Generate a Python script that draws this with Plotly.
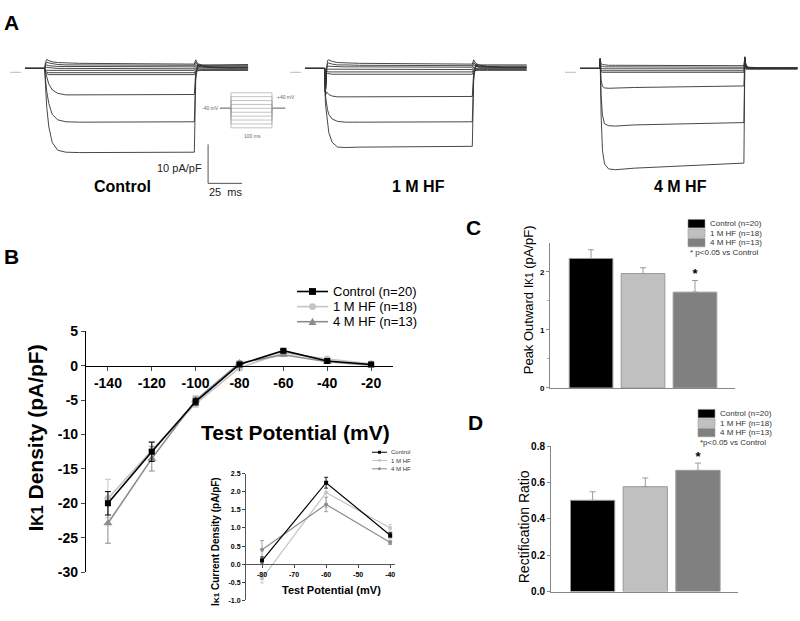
import plotly.graph_objects as go

W, H = 800, 621
FONT = "Liberation Sans, Arial, sans-serif"

# ---------------- Panel A: representative IK1 current traces (ms, pA/pF) ----------------
ctrl_t = [0, 14.5, 15.0, 16.0, 17.5, 20.0, 24.0, 30.0, 40.0, 124.5, 125.5, 127.0, 130.0, 136.0, 148.0, 164.0]
ctrl_traces = [
    [0, 0, -4.0, -10.0, -15.0, -19.0, -21.0, -21.5, -21.6, -21.5, -3.0, 1.0, 0.8, 0.4, 0.3, 0.3],
    [0, 0, -2.5, -6.0, -9.0, -11.8, -13.2, -13.7, -13.8, -13.7, -2.0, 0.8, 0.6, 0.3, 0.2, 0.2],
    [0, 0, -1.0, -2.5, -4.0, -5.5, -6.4, -6.8, -6.8, -6.7, -1.0, 0.6, 0.4, 0.2, 0.1, 0.1],
    [0, 0, 1.5, 2.3, 2.0, 1.7, 1.5, 1.4, 1.3, 1.1, 2.2, 1.2, 0.9, 0.9, 1.0, 1.0],
    [0, 0, 1.0, 1.6, 1.4, 1.2, 1.0, 0.9, 0.9, 0.8, 1.6, 0.9, 0.7, 0.7, 0.7, 0.7],
    [0, 0, 0.6, 0.9, 0.7, 0.6, 0.5, 0.5, 0.5, 0.4, 1.0, 0.5, 0.4, 0.4, 0.4, 0.4],
    [0, 0, 0.2, 0.3, 0.2, 0.1, 0.0, 0.0, 0.0, -0.1, 0.5, 0.2, 0.1, 0.1, 0.1, 0.1],
    [0, 0, -0.3, -0.5, -0.5, -0.5, -0.5, -0.5, -0.5, -0.5, 0.0, -0.1, -0.2, -0.2, -0.2, -0.2],
    [0, 0, -0.6, -1.0, -1.1, -1.1, -1.1, -1.1, -1.1, -1.1, -0.5, -0.4, -0.4, -0.4, -0.4, -0.4],
    [0, 0, -0.9, -1.4, -1.6, -1.6, -1.6, -1.6, -1.6, -1.6, -0.8, -0.6, -0.5, -0.5, -0.5, -0.5],
]

hf1_t = [0, 14.5, 15.0, 15.8, 16.5, 17.5, 20.0, 24.0, 30.0, 40.0, 123.0, 124.0, 125.5, 128.0, 134.0, 146.0, 163.0]
hf1_traces = [
    [0, 0, -9.0, -12.0, -14.5, -16.5, -19.0, -20.2, -20.3, -20.2, -20.0, -3.0, 1.0, 0.8, 0.5, 0.3, 0.3],
    [0, 0, -7.0, -9.0, -10.5, -11.8, -13.0, -13.6, -13.8, -13.8, -13.7, -2.0, 0.8, 0.6, 0.4, 0.3, 0.3],
    [0, 0, -7.0, -6.0, -6.3, -6.7, -7.1, -7.3, -7.3, -7.3, -7.2, -1.0, 0.6, 0.4, 0.3, 0.2, 0.2],
    [0, 0, -6.0, 0.5, 2.0, 2.2, 1.8, 1.5, 1.4, 1.3, 1.1, 2.2, 1.3, 0.9, 0.9, 0.9, 0.9],
    [0, 0, -6.0, 0.2, 1.2, 1.4, 1.1, 0.9, 0.9, 0.8, 0.7, 1.5, 0.9, 0.6, 0.6, 0.6, 0.6],
    [0, 0, -6.0, 0.0, 0.5, 0.6, 0.5, 0.4, 0.4, 0.4, 0.3, 1.0, 0.5, 0.3, 0.3, 0.3, 0.3],
    [0, 0, -6.0, -0.5, -0.2, -0.2, -0.3, -0.3, -0.3, -0.3, -0.3, 0.4, 0.0, 0.0, 0.0, 0.0, 0.0],
    [0, 0, -6.0, -1.0, -0.8, -0.9, -0.9, -0.9, -0.9, -0.9, -0.9, -0.2, -0.3, -0.3, -0.3, -0.3, -0.3],
    [0, 0, -6.0, -1.4, -1.3, -1.4, -1.5, -1.5, -1.5, -1.5, -1.5, -0.6, -0.5, -0.5, -0.5, -0.5, -0.5],
]

hf4_t = [0, 14.3, 14.8, 15.5, 16.5, 18.0, 21.0, 26.0, 40.0, 80.0, 120.5, 121.2, 122.0, 124.0, 130.0, 145.0, 160.0]
hf4_traces = [
    [0, 0, 2.5, -12.0, -21.0, -24.5, -25.8, -26.0, -25.6, -25.0, -24.3, 2.8, 0.8, 0.3, 0.2, 0.2, 0.2],
    [0, 0, 2.5, -7.0, -12.0, -14.2, -14.7, -14.8, -14.5, -14.2, -13.9, 2.8, 0.6, 0.2, 0.1, 0.1, 0.1],
    [0, 0, 2.5, -3.0, -4.6, -5.0, -5.1, -5.0, -4.9, -4.7, -4.5, 2.8, 0.4, 0.1, 0.1, 0.1, 0.1],
    [0, 0, 2.5, 1.2, 1.0, 0.9, 0.8, 0.8, 0.8, 0.7, 0.7, 3.0, 0.6, 0.2, 0.1, 0.1, 0.1],
    [0, 0, 2.0, 0.6, 0.5, 0.4, 0.4, 0.4, 0.4, 0.3, 0.3, 2.5, 0.4, 0.1, 0.0, 0.0, 0.0],
    [0, 0, 1.5, 0.0, -0.1, -0.1, -0.1, -0.1, -0.1, -0.1, -0.1, 2.0, 0.2, 0.0, 0.0, 0.0, 0.0],
    [0, 0, 1.0, -0.5, -0.6, -0.6, -0.6, -0.6, -0.6, -0.6, -0.6, 1.5, 0.0, -0.1, -0.1, -0.1, -0.1],
    [0, 0, 0.5, -0.9, -1.0, -1.0, -1.0, -1.0, -1.0, -1.0, -1.0, 1.0, -0.2, -0.2, -0.2, -0.2, -0.2],
]

zero_t = [-11, -3]          # little zero-current marker left of each trace set
zero_i = [-1, -1]
scale_ms = 25
scale_pa = 10

# voltage protocol: 100 ms steps from -40 mV holding
prot_hold = -40
prot_levels = [-140, -120, -100, -80, -60, -40, -20, 0, 20, 40]
prot_t = [-27, 0, 0, 100, 100, 132]

# ---------------- Panel B: I-V relation ----------------
iv_mv = [-140, -120, -100, -80, -60, -40, -20]
iv_ctrl = [-20.0, -12.5, -5.2, 0.2, 2.2, 0.7, 0.2]
iv_ctrl_err = [1.7, 1.4, 0.5, 0.3, 0.2, 0.15, 0.1]
iv_hf1 = [-19.3, -12.3, -5.5, -0.3, 1.9, 1.0, 0.3]
iv_hf1_err = [2.8, 1.3, 0.5, 0.3, 0.25, 0.2, 0.1]
iv_hf4 = [-22.9, -13.5, -5.0, 0.4, 1.6, 0.6, 0.1]
iv_hf4_err = [2.9, 1.8, 0.6, 0.3, 0.2, 0.15, 0.1]

# inset: outward component
ins_mv = [-80, -60, -40]
ins_ctrl = [0.1, 2.25, 0.8]
ins_ctrl_err = [0.1, 0.15, 0.07]
ins_hf1 = [-0.4, 1.98, 1.0]
ins_hf1_err = [0.12, 0.42, 0.1]
ins_hf4 = [0.4, 1.65, 0.6]
ins_hf4_err = [0.25, 0.2, 0.06]

# ---------------- Panels C and D: bar summaries ----------------
groups = ["Control", "1 M HF", "4 M HF"]
group_labels = ["Control (n=20)", "1 M HF (n=18)", "4 M HF (n=13)"]
peak_out = [2.23, 1.97, 1.65]
peak_out_err = [0.15, 0.1, 0.2]
rect_ratio = [0.503, 0.578, 0.668]
rect_ratio_err = [0.047, 0.048, 0.04]
sig_group = ["4 M HF"]
peak_sig_y = [1.95]
rect_sig_y = [0.74]

bar_colors = ["#000000", "#c0c0c0", "#808080"]
line_colors = ["#000000", "#c4c4c4", "#8c8c8c"]


def px(x):
    return x / W


def py(y):
    return 1 - y / H


fig = go.Figure()

# ---- A traces
trace_style = dict(color="#333333", width=0.9)
for ax, t, traces in (("2", ctrl_t, ctrl_traces), ("3", hf1_t, hf1_traces), ("4", hf4_t, hf4_traces)):
    for tr in traces:
        fig.add_trace(go.Scatter(x=t, y=tr, mode="lines", line=trace_style, showlegend=False,
                                 hoverinfo="skip", xaxis="x" + ax, yaxis="y" + ax))
    fig.add_trace(go.Scatter(x=zero_t, y=zero_i, mode="lines", line=dict(color="#aaaaaa", width=0.8),
                             showlegend=False, hoverinfo="skip", xaxis="x" + ax, yaxis="y" + ax))

# scale bar in the control panel
sb_t0, sb_i0 = 134.6, -19.5
fig.add_trace(go.Scatter(x=[sb_t0, sb_t0, sb_t0 + scale_ms], y=[sb_i0, sb_i0 - scale_pa, sb_i0 - scale_pa],
                         mode="lines", line=dict(color="#555555", width=1), showlegend=False,
                         hoverinfo="skip", xaxis="x2", yaxis="y2"))

# protocol schematic
for v in prot_levels:
    fig.add_trace(go.Scatter(x=prot_t, y=[prot_hold, prot_hold, v, v, prot_hold, prot_hold], mode="lines",
                             line=dict(color="#9a9a9a", width=0.6), showlegend=False, hoverinfo="skip",
                             xaxis="x5", yaxis="y5"))

# ---- B main I-V
for y, err, col, sym, size in ((iv_hf1, iv_hf1_err, line_colors[1], "circle", 7),
                               (iv_hf4, iv_hf4_err, line_colors[2], "triangle-up", 8),
                               (iv_ctrl, iv_ctrl_err, line_colors[0], "square", 6)):
    fig.add_trace(go.Scatter(x=iv_mv, y=y, mode="lines+markers", showlegend=False,
                             line=dict(color=col, width=1.6), marker=dict(symbol=sym, size=size, color=col),
                             error_y=dict(type="data", array=err, color=col, thickness=1, width=3)))

# ---- B inset
for y, err, col, sym in ((ins_hf1, ins_hf1_err, line_colors[1], "circle"),
                         (ins_hf4, ins_hf4_err, line_colors[2], "circle"),
                         (ins_ctrl, ins_ctrl_err, line_colors[0], "square")):
    fig.add_trace(go.Scatter(x=ins_mv, y=y, mode="lines+markers", showlegend=False,
                             line=dict(color=col, width=1.2), marker=dict(symbol=sym, size=4, color=col),
                             error_y=dict(type="data", array=err, color=col, thickness=0.8, width=2),
                             xaxis="x6", yaxis="y6"))

# ---- C and D bars
for ax, vals, errs, sig_y in (("7", peak_out, peak_out_err, peak_sig_y), ("8", rect_ratio, rect_ratio_err, rect_sig_y)):
    fig.add_trace(go.Bar(x=groups, y=vals, width=0.84, showlegend=False,
                         marker=dict(color=bar_colors, line=dict(color="#9a9a9a", width=1)),
                         error_y=dict(type="data", array=errs, arrayminus=[0] * len(errs), symmetric=False,
                                      color="#9a9a9a", thickness=1, width=3),
                         xaxis="x" + ax, yaxis="y" + ax))
    fig.add_trace(go.Scatter(x=sig_group, y=sig_y, mode="text", text=["*"], showlegend=False,
                             textfont=dict(size=13, color="black", family=FONT, weight="bold"),
                             xaxis="x" + ax, yaxis="y" + ax))

hidden = dict(visible=False, fixedrange=True)
b_dom_y = [py(579), py(332)]
b_range_y = [-30, 5]
b_zero = b_dom_y[0] + (0 - b_range_y[0]) / (b_range_y[1] - b_range_y[0]) * (b_dom_y[1] - b_dom_y[0])
i_dom_y = [py(608), py(478)]
i_range_y = [-1.0, 2.5]
i_zero = i_dom_y[0] + (0 - i_range_y[0]) / (i_range_y[1] - i_range_y[0]) * (i_dom_y[1] - i_dom_y[0])

bold = lambda s: dict(size=s, color="black", family=FONT, weight="bold")
a_dom_y = [py(190), py(40)]
a_range_y = [-32, 5.5]

layout_axes = dict(
    xaxis2=dict(hidden, domain=[px(8.7), px(8.7 + 180 * 1.36)], range=[-12, 168], anchor="y2"),
    yaxis2=dict(hidden, domain=a_dom_y, range=a_range_y, anchor="x2"),
    xaxis3=dict(hidden, domain=[px(288.7), px(288.7 + 180 * 1.36)], range=[-12, 168], anchor="y3"),
    yaxis3=dict(hidden, domain=a_dom_y, range=a_range_y, anchor="x3"),
    xaxis4=dict(hidden, domain=[px(563.7), px(563.7 + 172 * 1.36)], range=[-12, 160], anchor="y4"),
    yaxis4=dict(hidden, domain=a_dom_y, range=a_range_y, anchor="x4"),
    xaxis5=dict(hidden, domain=[px(215), px(290)], range=[-39, 143.9], anchor="y5"),
    yaxis5=dict(hidden, domain=[py(130), py(80)], range=[-175, 75], anchor="x5"),
    xaxis=dict(domain=[px(86), px(393)], range=[-150, -10], anchor="free", position=b_zero,
               showline=True, linecolor="black", linewidth=1.2, ticks="outside", ticklen=4,
               tickvals=iv_mv, ticktext=[str(v) for v in iv_mv],
               tickfont=bold(14), showgrid=False, zeroline=False, fixedrange=True),
    yaxis=dict(domain=b_dom_y, range=b_range_y, anchor="x", showline=True, linecolor="black", linewidth=1.2,
               ticks="outside", ticklen=4, tickvals=list(range(-30, 6, 5)),
               ticktext=[str(v) for v in range(-30, 6, 5)], tickfont=bold(14),
               showgrid=False, zeroline=False, fixedrange=True),
    xaxis6=dict(domain=[px(246), px(395)], range=[-85, -38.5], anchor="free", position=i_zero,
                showline=True, linecolor="#555555", linewidth=1, ticks="outside", ticklen=3,
                tickvals=[-80, -70, -60, -50, -40], ticktext=["-80", "-70", "-60", "-50", "-40"],
                tickfont=bold(7), showgrid=False, zeroline=False, fixedrange=True),
    yaxis6=dict(domain=i_dom_y, range=i_range_y, anchor="x6", showline=True, linecolor="#555555", linewidth=1,
                ticks="outside", ticklen=3, tickvals=[-1.0, -0.5, 0, 0.5, 1.0, 1.5, 2.0, 2.5],
                ticktext=["-1.0", "-0.5", "0.0", "0.5", "1.0", "1.5", "2.0", "2.5"],
                tickfont=bold(7), showgrid=False, zeroline=False, fixedrange=True),
    xaxis7=dict(domain=[px(550), px(735)], type="category", range=[-0.79, 2.77], anchor="y7",
                showline=True, linecolor="#888888", linewidth=1, showticklabels=False, ticks="",
                showgrid=False, fixedrange=True),
    yaxis7=dict(domain=[py(390), py(241)], range=[0, 2.5], anchor="x7", showline=True, linecolor="#888888",
                linewidth=1, ticks="outside", ticklen=3, tickcolor="#888888", tickvals=[0, 1, 2],
                tickfont=bold(8), minor=dict(tickvals=[0.5, 1.5], ticks="outside", ticklen=2, tickcolor="#aaaaaa"),
                showgrid=False, zeroline=False, fixedrange=True),
    xaxis8=dict(domain=[px(551), px(738)], type="category", range=[-0.79, 2.76], anchor="y8",
                showline=True, linecolor="#888888", linewidth=1, showticklabels=False, ticks="",
                showgrid=False, fixedrange=True),
    yaxis8=dict(domain=[py(599), py(450)], range=[0, 0.8], anchor="x8", showline=True, linecolor="#888888",
                linewidth=1, ticks="outside", ticklen=3, tickcolor="#888888",
                tickvals=[0, 0.2, 0.4, 0.6, 0.8], ticktext=["0.0", "0.2", "0.4", "0.6", "0.8"],
                tickfont=bold(10), showgrid=False, zeroline=False, fixedrange=True),
)

ann = []
shapes = []


def text(x, y, s, size, weight="normal", xanchor="center", angle=0, color="black"):
    ann.append(dict(x=px(x), y=py(y), xref="paper", yref="paper", text=s, showarrow=False,
                    xanchor=xanchor, yanchor="middle", textangle=angle,
                    font=dict(size=size, family=FONT, color=color, weight=weight)))


# panel letters
text(11, 15, "A", 21, "bold")
text(11, 255, "B", 21, "bold")
text(473, 225, "C", 21, "bold")
text(475, 425, "D", 21, "bold")

# A labels
text(122, 183, "Control", 16, "bold")
text(418, 183, "1 M HF", 16, "bold")
text(680, 183, "4 M HF", 16, "bold")
text(204, 164, "10 pA/pF", 11, xanchor="right", color="#222222")
text(226, 189, "25&nbsp;&nbsp;ms", 11, color="#222222")
text(210, 103, "-40 mV", 5, color="#666666")
text(286, 91, "+40 mV", 5, color="#666666")
text(253, 131, "100 ms", 5, color="#666666")

# B titles
text(36, 442, "I<span style='font-size:16px'>K1</span> Density (pA/pF)", 21, "bold", angle=-90)
text(295, 436, "Test Potential (mV)", 21, "bold")
text(216, 548, "I<span style='font-size:8px'>K1</span> Current Density (pA/pF)", 10, "bold", angle=-90)
text(331, 597, "Test Potential (mV)", 11, "bold")

# C / D titles
text(528, 300, "Peak Outward I<span style='font-size:10px'>K1</span> (pA/pF)", 13, angle=-90)
text(524, 533, "Rectification Ratio", 14, angle=-90)


def marker_shape(kind, cx, cy, r, color):
    if kind == "square":
        shapes.append(dict(type="rect", xref="paper", yref="paper", x0=px(cx - r), x1=px(cx + r),
                           y0=py(cy + r), y1=py(cy - r), fillcolor=color, line=dict(width=0)))
    elif kind == "circle":
        shapes.append(dict(type="circle", xref="paper", yref="paper", x0=px(cx - r), x1=px(cx + r),
                           y0=py(cy + r), y1=py(cy - r), fillcolor=color, line=dict(width=0)))
    else:
        path = "M %f,%f L %f,%f L %f,%f Z" % (px(cx - r - 0.5), py(cy + r), px(cx + r + 0.5), py(cy + r),
                                             px(cx), py(cy - r - 0.5))
        shapes.append(dict(type="path", xref="paper", yref="paper", path=path, fillcolor=color,
                           line=dict(width=0)))


def line_shape(x0, x1, y, color, width):
    shapes.append(dict(type="line", xref="paper", yref="paper", x0=px(x0), x1=px(x1), y0=py(y), y1=py(y),
                       line=dict(color=color, width=width)))


# B legend
for i, (lab, col, kind) in enumerate(zip(group_labels, line_colors, ["square", "circle", "triangle"])):
    yy = 291 + i * 15.5
    line_shape(297, 328, yy, col, 1.6)
    marker_shape(kind, 312.5, yy, 3.5, col)
    text(331, yy, lab, 13, xanchor="left")

# inset legend
for i, (lab, col, kind) in enumerate(zip(["Control", "1 M HF", "4 M HF"], line_colors, ["square", "circle", "circle"])):
    yy = 456 + i * 8.5
    line_shape(372, 387, yy, col, 1)
    marker_shape(kind, 379.5, yy, 1.5, col)
    text(389, yy, lab, 6, xanchor="left", color="#333333")

# C and D legends
for bx, top, note in ((688, 217, "* p<0.05 vs Control"), (698, 412, "*p<0.05 vs Control")):
    for i, (lab, col) in enumerate(zip(group_labels, bar_colors)):
        y0 = top + i * 9.7
        shapes.append(dict(type="rect", xref="paper", yref="paper", x0=px(bx), x1=px(bx + 17),
                           y0=py(y0 + 8.7), y1=py(y0), fillcolor=col, line=dict(color="#9a9a9a", width=0.6)))
        text(bx + 20, y0 + 4.5, lab, 8, xanchor="left", color="#333333")
    text(bx, top + 3 * 9.7 + 4.5, note, 8, xanchor="left", color="#333333")

fig.update_layout(
    width=W, height=H, margin=dict(l=0, r=0, t=0, b=0),
    paper_bgcolor="white", plot_bgcolor="rgba(0,0,0,0)",
    font=dict(family=FONT, color="black"), showlegend=False,
    annotations=ann, shapes=shapes, **layout_axes,
)
fig.write_html("out.html", config={"displayModeBar": False},
               post_script="document.body.style.margin='0px';")
